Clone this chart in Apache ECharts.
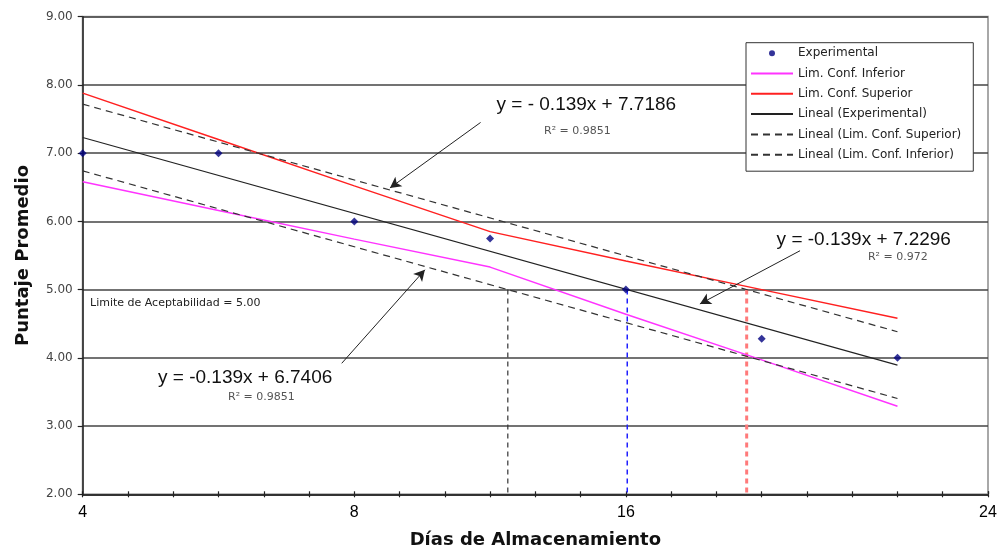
<!DOCTYPE html>
<html>
<head>
<meta charset="utf-8">
<script src="https://cdn.jsdelivr.net/npm/echarts@6/dist/echarts.min.js"></script>
<style>
  html, body { margin: 0; padding: 0; background: #fff; }
  #c { width: 1007px; height: 554px; }
</style>
</head>
<body>
<div id="c"></div>
<script>
// Storage days and mean panel scores
const dias = [0, 4, 8, 12, 16, 20, 24];
const experimental = [7.0, 7.0, 6.0, 5.75, 5.0, 4.28, 4.0];
const limInferior = [6.58, 6.16, 5.74, 5.33, 4.64, 3.97, 3.29];
const limSuperior = [7.88, 7.20, 6.52, 5.85, 5.42, 5.00, 4.58];

// Linear fits (slope shared by the three lines)
const pendiente = -0.139;
const interceptoSuperior = 7.7186;
const interceptoExperimental = 7.2296;
const interceptoInferior = 6.7406;
const r2Superior = '0.9851';
const r2Experimental = '0.972';
const r2Inferior = '0.9851';
const limiteAceptabilidad = 5.0;

// Axis ticks: y from 2 to 9; x ticks every 4/3 day, labelled at a few of them
const yMin = 2, yMax = 9, yStep = 1;
const xMin = 0, xMax = 80 / 3, xStep = 4 / 3;
const xTickIndex = [0, 6, 12, 20];
const xTickText = ['4', '8', '16', '24'];

const SMALL = '"DejaVu Sans", Verdana, sans-serif';
const ARIAL = '"Liberation Sans", Arial, sans-serif';

function recta(b) {
  const x0 = dias[0], x1 = dias[dias.length - 1];
  return [[x0, b + pendiente * x0], [x1, b + pendiente * x1]];
}
function cruce(b) {
  // day at which a fitted line reaches the acceptability limit
  const x = (limiteAceptabilidad - b) / pendiente;
  return [[x, limiteAceptabilidad], [x, yMin]];
}
const pares = (ys) => dias.map((d, i) => [d, ys[i]]);

// legend entries for lines show only the stroke, no marker
const soloLinea = (name) => ({ name, itemStyle: { color: 'transparent', borderWidth: 0, opacity: 0 } });

const chart = echarts.init(document.getElementById('c'), null, { renderer: 'canvas' });

const ejeX = {
  type: 'value',
  min: xMin, max: xMax, interval: xStep,
  splitLine: { show: false }
};

const option = {
  animation: false,
  backgroundColor: '#fff',
  grid: {
    left: 82.7, right: 19, top: 16.7, bottom: 59.7,
    outerBoundsMode: 'none',
    show: true, borderColor: '#a8a8a8', borderWidth: 2, backgroundColor: 'transparent'
  },
  legend: {
    orient: 'vertical',
    left: 746, top: 42.7,
    padding: [4, 12, 10, 4],
    backgroundColor: '#fff',
    borderColor: '#333', borderWidth: 1,
    itemWidth: 42, itemHeight: 6, itemGap: 7.3,
    textStyle: { fontFamily: SMALL, fontSize: 12, color: '#222', lineHeight: 13 },
    data: [
      { name: 'Experimental', icon: 'circle' },
      soloLinea('Lim. Conf. Inferior'),
      soloLinea('Lim. Conf. Superior'),
      soloLinea('Lineal (Experimental)'),
      soloLinea('Lineal (Lim. Conf. Superior)'),
      soloLinea('Lineal (Lim. Conf. Inferior)')
    ]
  },
  xAxis: [
    Object.assign({}, ejeX, {
      name: 'Días de Almacenamiento',
      nameLocation: 'middle', nameGap: 37,
      nameTextStyle: { fontFamily: SMALL, fontWeight: 'bold', fontSize: 18, color: '#111' },
      axisLine: { show: true, lineStyle: { color: '#222', width: 1.5 } },
      axisTick: { show: true, length: 3, lineStyle: { color: '#222', width: 1.2 } },
      axisLabel: {
        margin: 10, fontFamily: ARIAL, fontSize: 16, color: '#000',
        showMinLabel: true, showMaxLabel: true,
        formatter: (v) => {
          const k = xTickIndex.indexOf(Math.round(v / xStep));
          return k >= 0 ? xTickText[k] : '';
        }
      }
    }),
    // inner half of the cross-shaped ticks on the day axis
    Object.assign({}, ejeX, {
      position: 'bottom',
      axisLine: { show: false },
      axisTick: { show: true, inside: true, length: 3, lineStyle: { color: '#222', width: 1.2 } },
      axisLabel: { show: false }
    })
  ],
  yAxis: {
    type: 'value',
    min: yMin, max: yMax, interval: yStep,
    name: 'Puntaje Promedio',
    nameLocation: 'middle', nameGap: 50,
    nameTextStyle: { fontFamily: SMALL, fontWeight: 'bold', fontSize: 18, color: '#111' },
    axisLine: { show: true, lineStyle: { color: '#222', width: 1.5 } },
    axisTick: { show: true, length: 5, lineStyle: { color: '#222', width: 1.2 } },
    axisLabel: {
      margin: 10, fontFamily: SMALL, fontSize: 12, color: '#444',
      formatter: (v) => v.toFixed(2)
    },
    splitLine: { show: true, lineStyle: { color: '#444', width: 1.5 } }
  },
  series: [
    {
      name: 'Lim. Conf. Inferior', type: 'line', data: pares(limInferior),
      symbol: 'none', lineStyle: { color: '#ff33ff', width: 1.5 }, itemStyle: { color: '#ff33ff' }, z: 3
    },
    {
      name: 'Lim. Conf. Superior', type: 'line', data: pares(limSuperior),
      symbol: 'none', lineStyle: { color: '#ff2020', width: 1.5 }, itemStyle: { color: '#ff2020' }, z: 3
    },
    {
      name: 'Lineal (Experimental)', type: 'line', data: recta(interceptoExperimental),
      symbol: 'none', lineStyle: { color: '#222', width: 1.2 }, itemStyle: { color: '#222' }, z: 3
    },
    {
      name: 'Lineal (Lim. Conf. Superior)', type: 'line', data: recta(interceptoSuperior),
      symbol: 'none', lineStyle: { color: '#333', width: 1.2, type: [7, 5] }, itemStyle: { color: '#333' }, z: 3
    },
    {
      name: 'Lineal (Lim. Conf. Inferior)', type: 'line', data: recta(interceptoInferior),
      symbol: 'none', lineStyle: { color: '#333', width: 1.2, type: [7, 5] }, itemStyle: { color: '#333' }, z: 3
    },
    // drop lines where each fit crosses the acceptability limit
    {
      name: 'corte-inferior', type: 'line', data: cruce(interceptoInferior), symbol: 'none',
      lineStyle: { color: '#333', width: 1.2, type: [5, 4] }, z: 2, silent: true
    },
    {
      name: 'corte-experimental', type: 'line', data: cruce(interceptoExperimental), symbol: 'none',
      lineStyle: { color: '#2020ff', width: 1.5, type: [5, 4] }, z: 2, silent: true
    },
    {
      name: 'corte-superior', type: 'line', data: cruce(interceptoSuperior), symbol: 'none',
      lineStyle: { color: '#ff7a7a', width: 3, type: [5, 4] }, z: 2, silent: true
    },
    {
      name: 'Experimental', type: 'scatter', data: pares(experimental),
      symbol: 'diamond', symbolSize: 8, itemStyle: { color: '#000080' }, z: 6,
      markLine: {
        silent: true, symbol: ['none', 'arrow'], symbolSize: [9, 11],
        lineStyle: { color: '#222', width: 1, type: 'solid' },
        label: { show: false },
        data: [
          [{ coord: [11.72, 7.45] }, { coord: [9.05, 6.49] }],
          [{ coord: [21.13, 5.57] }, { coord: [18.18, 4.79] }],
          [{ coord: [7.63, 3.92] }, { coord: [10.08, 5.29] }]
        ]
      }
    }
  ]
};

chart.setOption(option);

// Fit equations and notes, anchored in data coordinates
const notas = [
  { at: [12.19, 7.706], text: 'y = - ' + Math.abs(pendiente) + 'x + ' + interceptoSuperior, font: ARIAL, size: 19, color: '#111' },
  { at: [13.59, 7.33], text: 'R² = ' + r2Superior, font: SMALL, size: 11, color: '#555' },
  { at: [20.44, 5.727], text: 'y = ' + pendiente + 'x + ' + interceptoExperimental, font: ARIAL, size: 19, color: '#111' },
  { at: [23.13, 5.474], text: 'R² = ' + r2Experimental, font: SMALL, size: 11, color: '#555' },
  { at: [2.218, 3.715], text: 'y = ' + pendiente + 'x + ' + interceptoInferior, font: ARIAL, size: 19, color: '#111' },
  { at: [4.28, 3.431], text: 'R² = ' + r2Inferior, font: SMALL, size: 11, color: '#555' },
  { at: [0.215, 4.80], text: 'Limite de Aceptabilidad = ' + limiteAceptabilidad.toFixed(2), font: SMALL, size: 11, color: '#222' }
];

chart.setOption({
  graphic: notas.map((n) => {
    const p = chart.convertToPixel({ gridIndex: 0 }, n.at);
    return {
      type: 'text', x: p[0], y: p[1], z: 20,
      style: {
        text: n.text, fontFamily: n.font, fontSize: n.size, fill: n.color,
        align: 'left', verticalAlign: 'middle'
      }
    };
  })
});
</script>
</body>
</html>
